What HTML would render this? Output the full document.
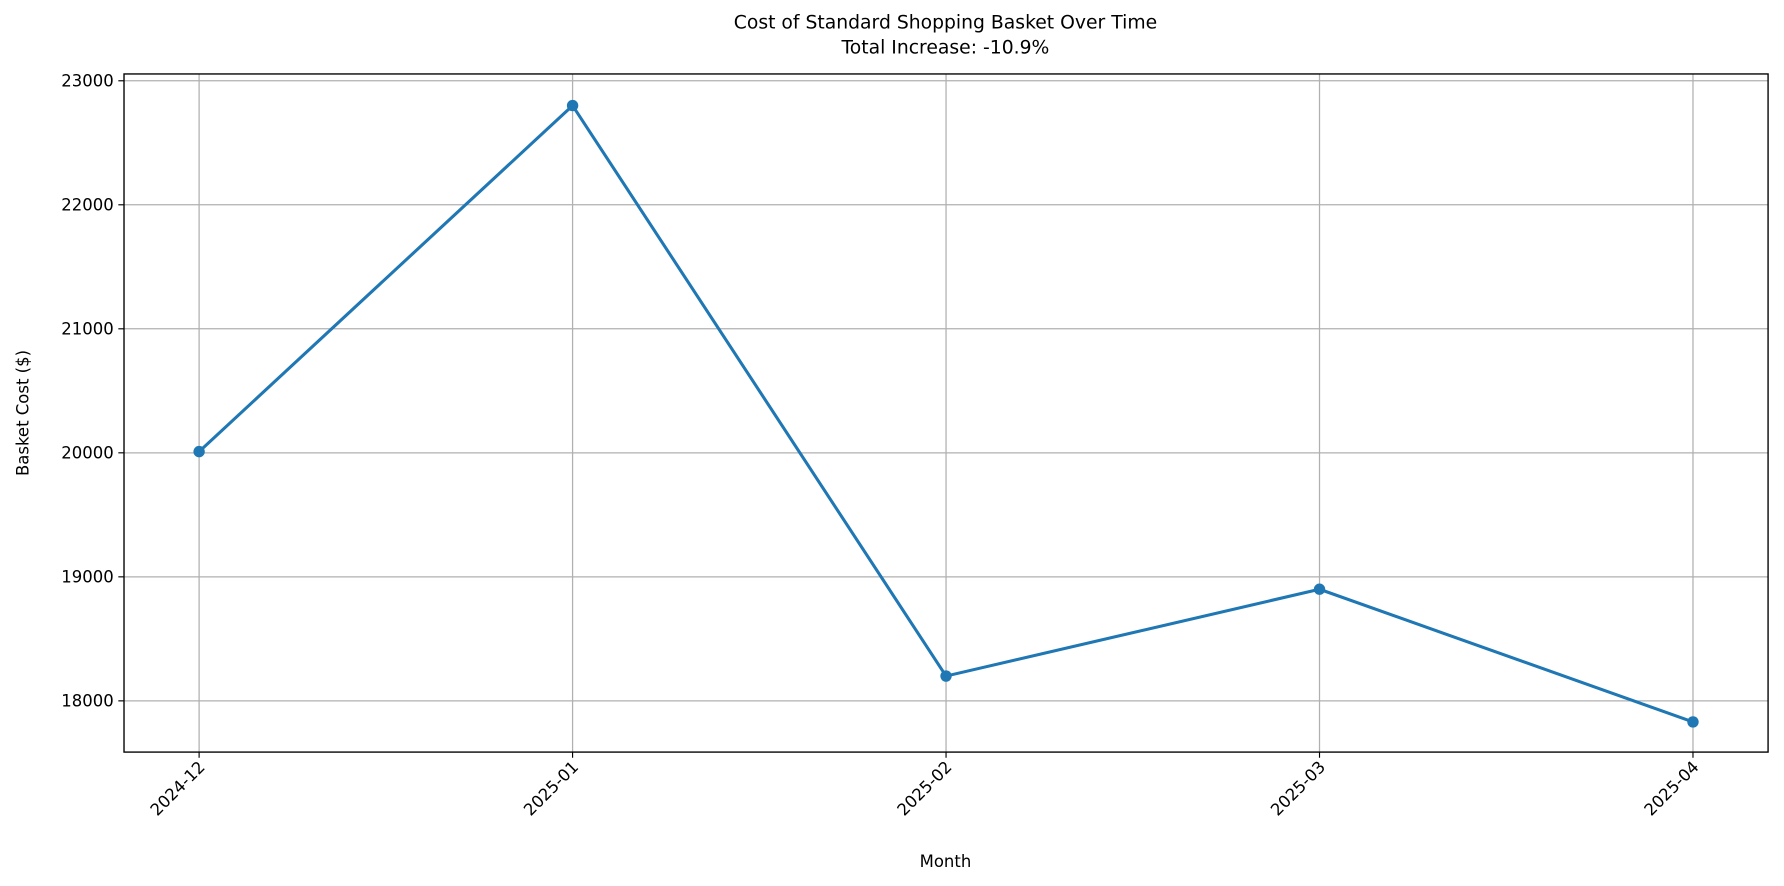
<!DOCTYPE html>
<html><head><meta charset="utf-8">
<style>
html,body{margin:0;padding:0;background:#fff;}
svg{display:block;font-family:"DejaVu Sans","Liberation Sans",sans-serif;}
</style></head>
<body>
<svg id="chart" width="1784" height="886" viewBox="0 0 1568 778.7" preserveAspectRatio="none">
<text x="831" y="25" font-size="16.5" text-anchor="middle">Cost of Standard Shopping Basket Over Time</text>
<text x="831" y="47" font-size="16.5" text-anchor="middle">Total Increase: -10.9%</text>
<g id="grid"></g>
<g id="ticks"></g>
<g id="series"></g>
<rect x="109" y="65" width="1445" height="596" fill="none" stroke="#000" stroke-width="1.2"/>
<text x="831" y="762" font-size="14.5" text-anchor="middle">Month</text>
<text transform="translate(25,363) rotate(-90)" font-size="14.5" text-anchor="middle">Basket Cost ($)</text>
</svg>
<script>
const categories = ["2024-12","2025-01","2025-02","2025-03","2025-04"];
const values = [20010, 22800, 18200, 18900, 17830];
const yTicks = [18000, 19000, 20000, 21000, 22000, 23000];
const NS = "http://www.w3.org/2000/svg";
const L=109,R=1554,T=65,B=661, yMin=17587, yMax=23055;
const x = i => 175 + i*(1488-175)/(categories.length-1);
const y = v => B - (v-yMin)/(yMax-yMin)*(B-T);
function mk(tag, attrs, parent){const e=document.createElementNS(NS,tag);for(const k in attrs)e.setAttribute(k,attrs[k]);document.getElementById(parent).appendChild(e);return e;}
yTicks.forEach(t=>{
  const g=mk('line',{x1:L,x2:R,y1:y(t),y2:y(t),stroke:'#b0b0b0','stroke-width':1.1},'grid');
  
  
  mk('line',{x1:L-5,x2:L,y1:y(t),y2:y(t),stroke:'#000','stroke-width':1},'ticks');
  const tx=mk('text',{x:L-9,y:y(t)+5,'font-size':14.5,'text-anchor':'end'},'ticks');
  tx.textContent=t;
  
  
});
categories.forEach((c,i)=>{
  const g=mk('line',{x1:x(i),x2:x(i),y1:T,y2:B,stroke:'#b0b0b0','stroke-width':1.1},'grid');
  
  
  mk('line',{x1:x(i),x2:x(i),y1:B,y2:B+5,stroke:'#000','stroke-width':1},'ticks');
  const tx=mk('text',{x:x(i)+6,y:B+14,'font-size':14.5,'text-anchor':'end',transform:`rotate(-45 ${x(i)+6} ${B+14})`},'ticks');
  tx.textContent=c;
  
  
});
const line=mk('polyline',{points:values.map((v,i)=>x(i)+','+y(v)).join(' '),fill:'none',stroke:'#1f77b4','stroke-width':2.7,'stroke-linejoin':'round'},'series');


values.forEach((v,i)=>{
  const p=mk('circle',{cx:x(i),cy:y(v),r:5,fill:'#1f77b4'},'series');
  
  
});
</script>
</body></html>
